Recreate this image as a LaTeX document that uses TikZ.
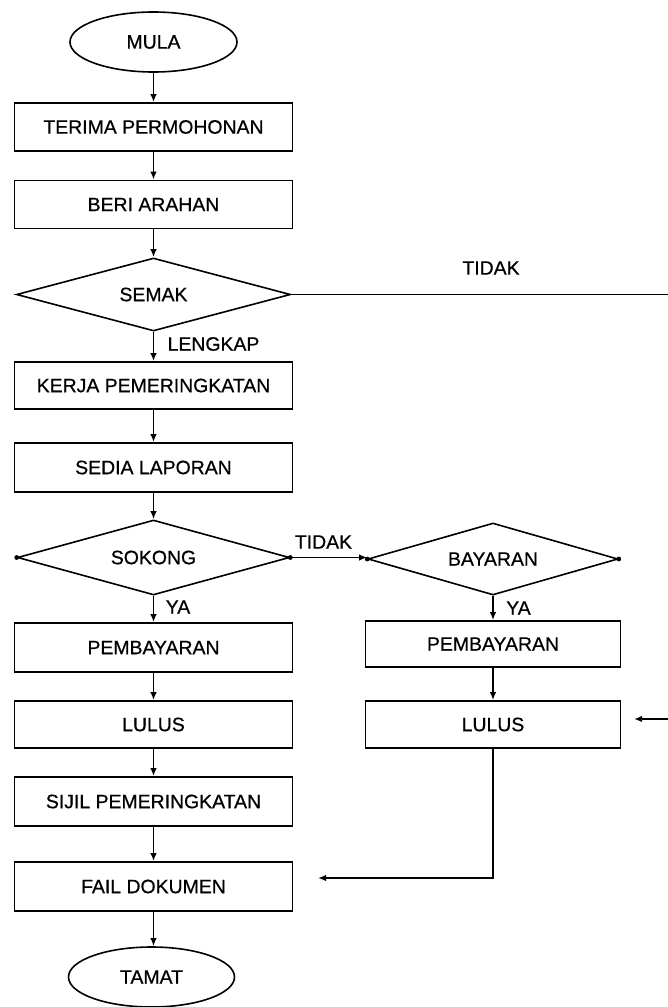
\documentclass[tikz,border=0pt]{standalone}
\usepackage{fontspec}
\setmainfont{Liberation Sans}[FakeBold=0.6]
\usetikzlibrary{shapes.geometric,arrows.meta}
\begin{document}
\begin{tikzpicture}[x=1bp,y=-1bp,
  every node/.style={font=\fontsize{19.5}{22}\selectfont, inner sep=0pt},
  box/.style={draw, line width=1.8bp, rectangle, minimum width=278bp, minimum height=48bp},
  rbox/.style={box, minimum width=255bp, minimum height=47bp},
  term/.style={draw, line width=1.6bp, ellipse, minimum width=167bp, minimum height=60bp},
  decide/.style={draw, line width=1.6bp, diamond, shape aspect=3.7},
  conn/.style={line width=1.6bp, -{Latex[length=8bp,width=6.5bp]}},
  plain/.style={line width=1.6bp},
  lbl/.style={}
]
\useasboundingbox (0,0) rectangle (668,1007);

% left column
\node[term] (mula) at (153.5,42) {MULA};
\node[box] (terima) at (153.5,127) {TERIMA PERMOHONAN};
\node[box] (beri) at (153.5,204.5) {BERI ARAHAN};
\node[decide, minimum width=274bp, minimum height=73bp] (semak) at (153.5,294.5) {SEMAK};
\node[box, minimum height=47bp] (kerja) at (153.5,385.5) {KERJA PEMERINGKATAN};
\node[box, minimum height=49bp] (sedia) at (153.5,467.5) {SEDIA LAPORAN};
\node[decide, minimum width=272bp, minimum height=75bp] (sokong) at (153.5,557.5) {SOKONG};
\node[box, minimum height=49bp] (pembL) at (153.5,647.5) {PEMBAYARAN};
\node[box, minimum height=47bp] (lulusL) at (153.5,724.5) {LULUS};
\node[box, minimum height=49bp] (sijil) at (153.5,801.5) {SIJIL PEMERINGKATAN};
\node[box, minimum height=49bp] (fail) at (153.5,886.5) {FAIL DOKUMEN};
\node[term, minimum width=166bp] (tamat) at (151.5,977) {TAMAT};

% right column
\node[decide, minimum width=250bp, minimum height=72bp] (bayaran) at (493,559) {BAYARAN};
\node[rbox, minimum height=46bp] (pembR) at (493,644) {PEMBAYARAN};
\node[rbox] (lulusR) at (493,724.5) {LULUS};

% free ends
\coordinate (semakOut) at (668,294.5);
\coordinate (lulusInStart) at (668,719);
\coordinate (lulusInTip) at (634,719);
\coordinate (failIn) at (318,878);

% connectors
\draw[conn] (mula.south) -- (terima.north);
\draw[conn] (terima.south) -- (beri.north);
\draw[conn] (beri.south) -- (semak.north);
\draw[plain] (semak.east) -- (semakOut);
\draw[conn] (semak.south) -- (kerja.north);
\draw[conn] (kerja.south) -- (sedia.north);
\draw[conn] (sedia.south) -- (sokong.north);
\draw[conn] (sokong.east) -- (sokong.east -| bayaran.west);
\draw[conn] (sokong.south) -- (pembL.north);
\draw[conn] (pembL.south) -- (lulusL.north);
\draw[conn] (lulusL.south) -- (sijil.north);
\draw[conn] (sijil.south) -- (fail.north);
\draw[conn] (fail.south) -- (fail.south |- tamat.north);
\draw[conn] (bayaran.south) -- (pembR.north);
\draw[conn] (pembR.south) -- (lulusR.north);
\draw[conn] (lulusInStart) -- (lulusInTip);
\draw[conn] (lulusR.south) |- (failIn);

% vertex dots
\fill (sokong.west) circle (2.4bp);
\fill (sokong.east) circle (2.4bp);
\fill (bayaran.west) circle (2.4bp);
\fill (bayaran.east) circle (2.4bp);

% labels
\node[lbl] (tidak1) at (491,268) {TIDAK};
\node[lbl] (lengkap) at (213.5,344) {LENGKAP};
\node[lbl] (tidak2) at (323.5,542) {TIDAK};
\node[lbl] (ya1) at (178,607) {YA};
\node[lbl] (ya2) at (518.5,608) {YA};
\end{tikzpicture}
\end{document}
